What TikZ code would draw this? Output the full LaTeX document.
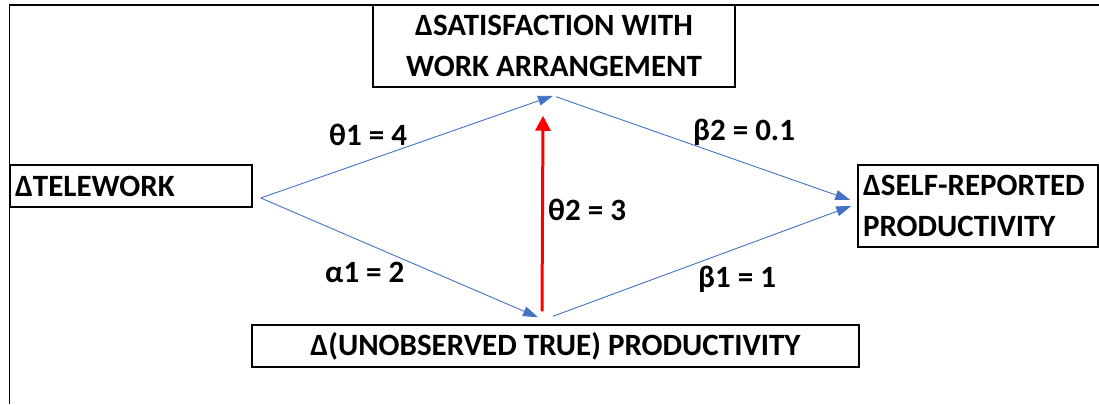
\documentclass[tikz,border=0pt]{standalone}
\usepackage{fontspec}
\setmainfont{Carlito}
\usetikzlibrary{arrows.meta}

\begin{document}
\begin{tikzpicture}[x=1pt, y=-1pt, >={Triangle[length=15pt, width=10pt]},
		font=\bfseries\fontsize{31}{41}\selectfont,
		box/.style={draw, line width=1.5pt, inner sep=5pt},
		path/.style={->, officeblue, line width=0.9pt},
		coef/.style={anchor=base west, inner sep=0pt}]
			\definecolor{officeblue}{RGB}{68, 114, 196}
			\definecolor{pathred}{RGB}{255, 0, 0}
			\useasboundingbox (0,0) rectangle (1099,404);
			
			% 外框
			\draw[line width=1.5pt] (9.5,404) -- (9.5,5) -- (1099,5);
			
			% 方框
			\node[box, minimum width=362pt, minimum height=82pt, align=center] (sat) at (554,46) {ΔSATISFACTION WITH\\WORK ARRANGEMENT};
			\node[box, text width=232pt, minimum height=42pt, align=left] (tele) at (131,186) {ΔTELEWORK};
			\node[box, text width=230pt, minimum height=82pt, align=left] (self) at (978,206) {ΔSELF-REPORTED\\PRODUCTIVITY};
			\node[box, minimum width=607pt, minimum height=42pt] (true) at (555.5,346) {Δ(UNOBSERVED TRUE) PRODUCTIVITY};
			
			% 箭头端点
			\coordinate (tele-out) at ([shift={(8,12)}]tele.east);
			\coordinate (sat-in) at ([shift={(-1,8)}]sat.south);
			\coordinate (sat-out) at ([shift={(2,9)}]sat.south);
			\coordinate (true-in) at ([shift={(-17.5,-7)}]true.north);
			\coordinate (true-out) at ([shift={(-2.5,-8)}]true.north);
			\coordinate (red-start) at ([shift={(-13.5,-13)}]true.north);
			\coordinate (red-end) at ([shift={(-11,28)}]sat.south);
			\coordinate (self-in1) at ([shift={(-7,-6)}]self.west);
			\coordinate (self-in2) at ([shift={(-6,0)}]self.west);
			
			% 路径
			\draw[path] (tele-out) -- (sat-in);
			\draw[path] (tele-out) -- (true-in);
			\draw[path] (sat-out) -- (self-in1);
			\draw[path] (true-out) -- (self-in2);
			\draw[->, pathred, line width=3pt, >={Triangle[length=15pt, width=15pt]}] (red-start) -- (red-end);
			
			% 系数
			\node[coef] (theta1) at (329,145) {θ1 = 4};
			\node[coef] (alpha1) at (325,282) {α1 = 2};
			\node[coef] (theta2) at (548,220) {θ2 = 3};
			\node[coef] (beta2) at (693,140) {β2 = 0.1};
			\node[coef] (beta1) at (698,287) {β1 = 1};
		\end{tikzpicture}
\end{document}
